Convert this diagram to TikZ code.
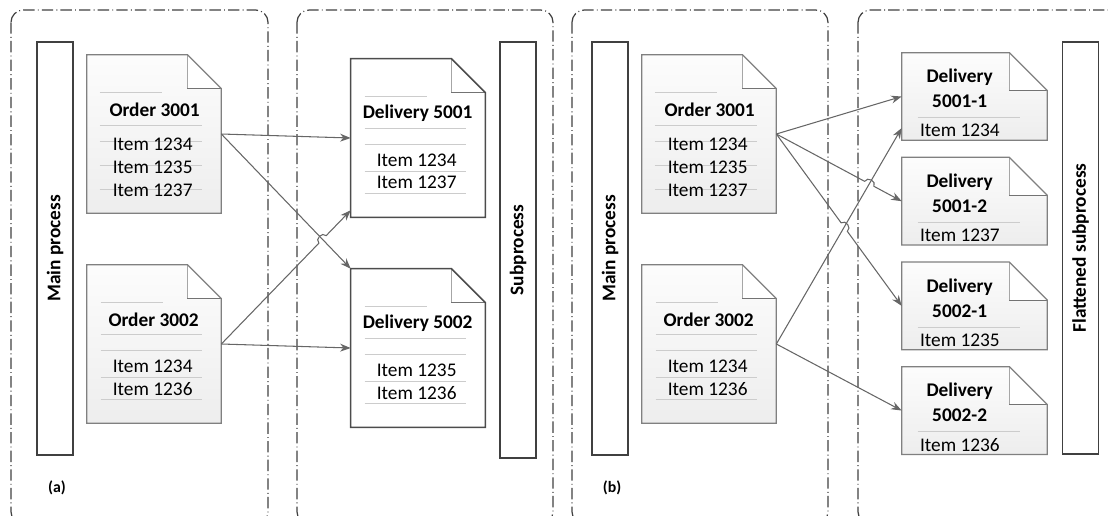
\documentclass[tikz,border=0pt]{standalone}
\usepackage{fontspec}
\setmainfont{Carlito}
\usetikzlibrary{arrows.meta,positioning,calc,intersections}

\tikzset{
  frame/.style={draw=black!75,line width=0.7pt,rounded corners=7pt,
                dash pattern=on 6.5pt off 1.8pt on 0.5pt off 1.8pt},
  bar/.style={draw=black!75,line width=1.1pt,fill=white,rotate=90,
              minimum height=0.72cm,inner sep=0,font=\fontsize{11}{13}\selectfont\bfseries},
  doc/.style={minimum width=2.68cm,minimum height=3.16cm,inner sep=0},
  sdoc/.style={minimum width=2.9cm,minimum height=1.74cm,inner sep=0},
  shadedoc/.style={top color=black!1,bottom color=black!7},
  graydoc/.style={draw=black!50,line width=0.7pt},
  ddoc/.style={draw=black!70,line width=0.9pt},
  title/.style={font=\fontsize{11}{13}\selectfont\bfseries,inner sep=0},
  item/.style={inner sep=0},
  rule/.style={draw=black!20,line width=0.6pt},
  conn/.style={draw=black!60,line width=0.6pt,-{Stealth[length=6pt,width=4.5pt]}},
}

% page with a folded corner, drawn round an empty node
\newcommand{\docbody}[4]{%
  \path[#3] (#1.north west) -- ($(#1.north east)+(-#2,0)$) -- ($(#1.north east)+(0,#2)$)
    -- (#1.south east) -- (#1.south west) -- cycle;
  \fill[white] ($(#1.north east)+(-#2,0)$) -- ($(#1.north east)+(-#2,#2)$) -- ($(#1.north east)+(0,#2)$) -- cycle;
  \draw[black!35,line width=0.6pt] ($(#1.north east)+(-#2,0)$) -- ($(#1.north east)+(-#2,#2)$);
  \draw[black!55,line width=0.6pt] ($(#1.north east)+(-#2,#2)$) -- ($(#1.north east)+(0,#2)$);
  \draw[#4] (#1.north west) -- ($(#1.north east)+(-#2,0)$) -- ($(#1.north east)+(0,#2)$)
    -- (#1.south east) -- (#1.south west) -- cycle;
}
% connector with a small hop where it crosses another one
\newcommand{\hopconn}[4]{%
  \path[name path=hpa] (#1) -- (#2);
  \path[name path=hpb] (#3) -- (#4);
  \path[name intersections={of=hpa and hpb,by=hpx}];
  \draw[conn] (#1) -- ($(hpx)!3pt!(#1)$) to[bend left=90,looseness=1.4] ($(hpx)!3pt!(#2)$) -- (#2);
}

\begin{document}
\begin{tikzpicture}[x=0.02cm,y=-0.02cm,font=\fontsize{11}{13}\selectfont]
  \useasboundingbox (0,0) rectangle (1108,515);
  \clip (0,0) rectangle (1108,515);
  % lanes
  \draw[frame] (11,10) rectangle (268,524);
  \draw[frame] (297,10) rectangle (553,524);
  \draw[frame] (572,10) rectangle (828,524);
  \draw[frame] (858,10) rectangle (1124,524);
  \node[bar,minimum width=8.26cm] (mainA) at (55,248.5) {Main process};
  \node[bar,minimum width=8.32cm] (subA) at (518,250) {Subprocess};
  \node[bar,minimum width=8.26cm] (mainB) at (610,248.5) {Main process};
  \node[bar,minimum width=8.24cm] (flatB) at (1080.5,248) {Flattened subprocess};
  \node[font=\fontsize{9}{10}\selectfont\bfseries] (labA) at (57,488) {(a)};
  \node[font=\fontsize{9}{10}\selectfont\bfseries] (labB) at (612,488) {(b)};

  % documents
  \node[doc] (o1) at (154,134) {};
  \node[doc] (o2) at (154,344) {};
  \node[doc] (d1) at (418,138) {};
  \node[doc] (d2) at (418,348) {};
  \node[doc] (o3) at (709,134) {};
  \node[doc] (o4) at (709,344) {};
  \node[sdoc] (e1) at (974.5,96.5) {};
  \node[sdoc,below=0.34cm of e1] (e2) {};
  \node[sdoc,below=0.34cm of e2] (e3) {};
  \node[sdoc,below=0.34cm of e3] (e4) {};
  \foreach \n/\f in {o1/34,o2/34,o3/34,o4/34,e1/38,e2/38,e3/38,e4/38}
    \docbody{\n}{\f}{shadedoc}{graydoc};
  \foreach \n in {d1,d2} \docbody{\n}{34}{fill=white}{ddoc};

  \foreach \n in {o1,o3}{
    \node[title] (\n-t) at ($(\n.north west)+(68,55)$) {Order 3001};
    \draw[rule] ($(\n.north west)+(13,38)$) -- +(62,0);
    \draw[rule] ($(\n.north west)+(13,71)$) -- +(102,0);
    \foreach \k/\t in {0/1234,1/1235,2/1237}{
      \draw[rule] ($(\n.north west)+(13,87+24*\k)$) -- +(102,0);
      \node[item] (\n-i\k) at ($(\n.north west)+(66,90+23*\k)$) {Item \t};}
  }
  \foreach \n/\h/\a/\b in {o2/Order 3002/1234/1236,o4/Order 3002/1234/1236,
                           d1/Delivery 5001/1234/1237,d2/Delivery 5002/1235/1236}{
    \node[title] (\n-t) at ($(\n.north west)+(67,55)$) {\h};
    \draw[rule] ($(\n.north west)+(14,38)$) -- +(62,0);
    \foreach \yy in {70,86,113,135} \draw[rule] ($(\n.north west)+(14,\yy)$) -- +(101,0);
    \node[item] (\n-i0) at ($(\n.north west)+(66,102)$) {Item \a};
    \node[item] (\n-i1) at ($(\n.north west)+(66,124)$) {Item \b};
  }
  \foreach \n/\a/\b in {e1/5001-1/1234,e2/5001-2/1237,e3/5002-1/1235,e4/5002-2/1236}{
    \node[title] (\n-t0) at ($(\n.north west)+(58,25)$) {Delivery};
    \node[title] (\n-t1) at ($(\n.north west)+(58,49)$) {\a};
    \draw[rule] ($(\n.north west)+(16,65)$) -- +(102,0);
    \node[item,anchor=west] (\n-i) at ($(\n.north west)+(18,78)$) {Item \b};
  }

  % connectors (a)
  \coordinate (d1in) at ([yshift=4pt]d1.south west);
  \draw[conn] (o1.east) -- (d1.west);
  \draw[conn] (o1.east) -- (d2.north west);
  \draw[conn] (o2.east) -- (d2.west);
  \hopconn{o2.east}{d1in}{o1.east}{d2.north west}
  % connectors (b)
  \coordinate (e1in) at ([yshift=7pt]e1.south west);
  \draw[conn] (o3.east) -- (e1.west);
  \hopconn{o3.east}{e2.west}{o4.east}{e1in}
  \hopconn{o3.east}{e3.west}{o4.east}{e1in}
  \draw[conn] (o4.east) -- (e1in);
  \draw[conn] (o4.east) -- (e4.west);
\end{tikzpicture}
\end{document}
